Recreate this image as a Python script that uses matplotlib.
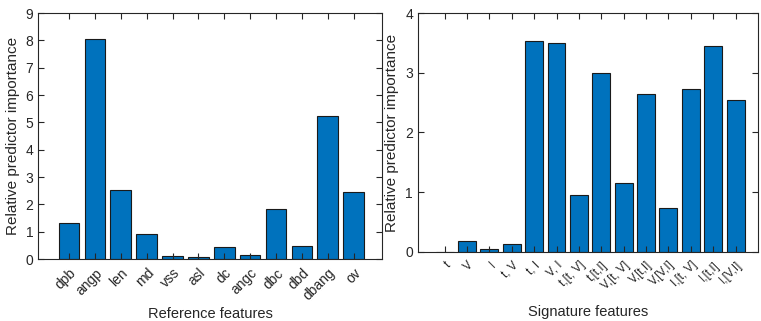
import matplotlib
matplotlib.use("Agg")
import matplotlib.pyplot as plt
import numpy as np

plt.rcParams['font.family'] = ['Liberation Sans', 'DejaVu Sans']

ref_labels = ['dpb', 'angp', 'len', 'md', 'vss', 'asl', 'dc', 'angc', 'dbc', 'dbd', 'dbang', 'ov']
ref_values = [1.32, 8.05, 2.51, 0.93, 0.10, 0.07, 0.44, 0.13, 1.82, 0.48, 5.25, 2.45]

sig_labels = ['t', 'V', 'I', 't, V', 't, I', 'V, I', 't,[t, V]', 't,[t,I]', 'V,[t, V]',
              'V,[t,I]', 'V,[V,I]', 'I,[t, V]', 'I,[t,I]', 'I,[V,I]']
sig_values = [0.005, 0.19, 0.05, 0.13, 3.53, 3.49, 0.955, 3.00, 1.155, 2.65, 0.74, 2.73, 3.45, 2.54]

bar_color = '#0072BD'
text_color = '#262626'

fig = plt.figure(figsize=(7.61, 3.21), dpi=100)
ax1 = fig.add_axes([0.050, 0.193, 0.452, 0.7665])
ax2 = fig.add_axes([0.549, 0.215, 0.447, 0.7445])


def style(ax, labels, values, ylim, yticks, xlabel, xlim, xfs, label_y):
    x = np.arange(1, len(values) + 1)
    ax.bar(x, values, width=0.8, color=bar_color, edgecolor='#1a1a1a', linewidth=0.8)
    ax.set_xlim(*xlim)
    ax.set_ylim(*ylim)
    ax.set_yticks(yticks)
    ax.set_xticks(x)
    ax.set_xticklabels(labels, rotation=45, ha='right', rotation_mode='anchor',
                       fontsize=xfs, color=text_color)
    ax.tick_params(direction='in', top=True, right=True, length=4, width=0.8,
                   colors=text_color, labelsize=10)
    ax.tick_params(axis='x', pad=5, labelsize=xfs)
    for s in ax.spines.values():
        s.set_color(text_color)
        s.set_linewidth(0.8)
    ax.set_ylabel('Relative predictor importance', fontsize=11, color=text_color, labelpad=4)
    ax.set_xlabel(xlabel, fontsize=10.5, color=text_color)
    ax.xaxis.set_label_coords(0.5, label_y)


style(ax1, ref_labels, ref_values, (0, 9), range(0, 10), 'Reference features',
      (-0.2, 13.1), 10, -0.195)
style(ax2, sig_labels, sig_values, (0, 4), range(0, 5), 'Signature features',
      (-0.2, 15.0), 8.5, -0.222)

fig.savefig('out.png', dpi=100)
